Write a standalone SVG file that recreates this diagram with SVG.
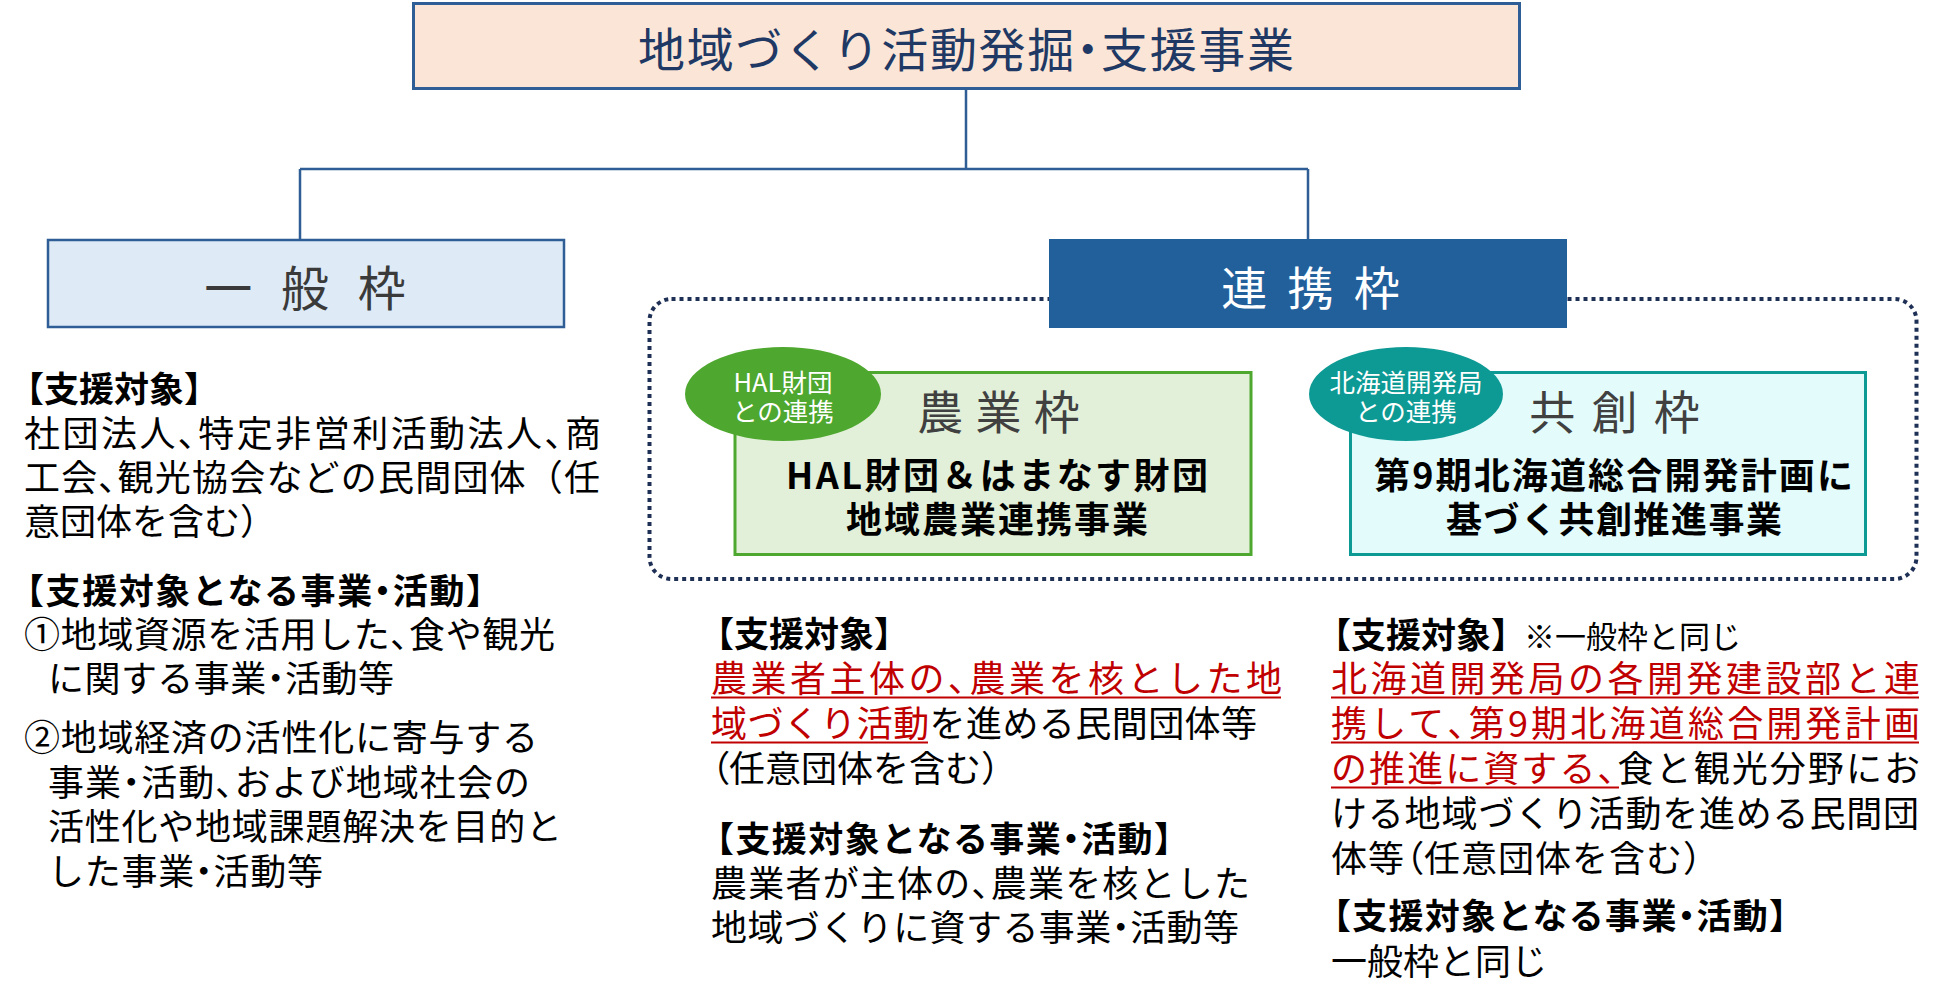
<svg xmlns="http://www.w3.org/2000/svg" width="1942" height="1005" viewBox="0 0 1942 1005">
<style>
text { font-family: "Noto Sans CJK JP", "Noto Sans CJK SC", sans-serif; }
.body { font-size: 36px; fill: #000; }
.head { font-size: 35px; font-weight: 700; fill: #000; }
.red { fill: #C00000; }
.p { font-feature-settings: "palt" 1; }
.ul { stroke: #C00000; stroke-width: 2.2; }
.conn { stroke: #2E5E95; stroke-width: 2.5; fill: none; }
.tag { font-size: 25.5px; fill: #FFFFFF; text-anchor: middle; }
.frame-label { font-size: 46px; fill: #404040; text-anchor: middle; }
.main { font-size: 36px; font-weight: 700; fill: #000; }
</style>
<rect width="1942" height="1005" fill="#FFFFFF"/>

<g id="connectors" class="conn">
  <path d="M966 89 V169 M300 169 H1308 M300 169 V239 M1308 169 V239"/>
</g>

<g id="node-top">
  <rect x="413.5" y="3.5" width="1106" height="85" fill="#FBE5D6" stroke="#2E5E95" stroke-width="3"/>
  <text x="966" y="67" font-size="47" fill="#203864" text-anchor="middle" textLength="656" lengthAdjust="spacing">地域づくり活動発掘<tspan class="p">・</tspan>支援事業</text>
</g>

<g id="node-general">
  <rect x="48" y="240" width="516" height="87" fill="#DEEBF7" stroke="#2E5E95" stroke-width="2.5"/>
  <text x="309.5" y="306" font-size="48" fill="#3A3A3A" text-anchor="middle" letter-spacing="9">一 般 枠</text>
</g>

<g id="frame-renkei">
  <rect x="649.5" y="299" width="1267" height="280" rx="22" fill="none" stroke="#1F3056" stroke-width="4" stroke-dasharray="4 4"/>
</g>

<g id="node-renkei">
  <rect x="1049" y="239" width="518" height="89" fill="#22609C"/>
  <text x="1313" y="305" font-size="46" fill="#FFFFFF" text-anchor="middle" letter-spacing="5">連 携 枠</text>
</g>

<g id="node-nogyo">
  <rect x="735" y="372.5" width="516" height="182" fill="#E2F0D9" stroke="#4EA72E" stroke-width="3"/>
  <ellipse cx="783" cy="394" rx="98" ry="47" fill="#4EA72E"/>
  <text class="tag" x="783" y="392">HAL財団</text>
  <text class="tag" x="783" y="421">との連携</text>
  <text class="frame-label" x="999" y="429" letter-spacing="1">農 業 枠</text>
  <text class="main" x="786" y="489" textLength="422" lengthAdjust="spacing">HAL財団＆はまなす財団</text>
  <text class="main" x="846" y="533" textLength="302" lengthAdjust="spacing">地域農業連携事業</text>
</g>

<g id="node-kyoso">
  <rect x="1350.5" y="372.5" width="515" height="182" fill="#E3FBFB" stroke="#0E9A94" stroke-width="3"/>
  <ellipse cx="1406" cy="394" rx="97" ry="47" fill="#0E9A94"/>
  <text class="tag" x="1406" y="392">北海道開発局</text>
  <text class="tag" x="1406" y="421">との連携</text>
  <text class="frame-label" x="1616" y="429" letter-spacing="3">共 創 枠</text>
  <text class="main" x="1374" y="489" textLength="479" lengthAdjust="spacing">第9期北海道総合開発計画に</text>
  <text class="main" x="1446" y="533" textLength="336" lengthAdjust="spacing">基づく共創推進事業</text>
</g>

<g id="text-general">
  <text class="head" x="9" y="402">【支援対象】</text>
  <text class="body" x="24" y="447" textLength="577" lengthAdjust="spacing">社団法人<tspan class="p">、</tspan>特定非営利活動法人<tspan class="p">、</tspan>商</text>
  <text class="body" x="24" y="491" textLength="576" lengthAdjust="spacing">工会<tspan class="p">、</tspan>観光協会などの民間団体（任</text>
  <text class="body" x="24" y="535">意団体を含む）</text>
  <text class="head" x="9" y="604" textLength="492" lengthAdjust="spacing">【支援対象となる事業<tspan class="p">・</tspan>活動】</text>
  <text class="body" x="24" y="648" textLength="531" lengthAdjust="spacing">①地域資源を活用した<tspan class="p">、</tspan>食や観光</text>
  <text class="body" x="48" y="692" textLength="346" lengthAdjust="spacing">に関する事業<tspan class="p">・</tspan>活動等</text>
  <text class="body" x="24" y="751" textLength="514" lengthAdjust="spacing">②地域経済の活性化に寄与する</text>
  <text class="body" x="48" y="796" textLength="482" lengthAdjust="spacing">事業<tspan class="p">・</tspan>活動<tspan class="p">、</tspan>および地域社会の</text>
  <text class="body" x="48" y="840" textLength="514" lengthAdjust="spacing">活性化や地域課題解決を目的と</text>
  <text class="body" x="48" y="885" textLength="275" lengthAdjust="spacing">した事業<tspan class="p">・</tspan>活動等</text>
</g>

<g id="text-nogyo">
  <text class="head" x="699" y="647">【支援対象】</text>
  <text class="body red" x="711" y="692" textLength="571" lengthAdjust="spacing">農業者主体の<tspan class="p">、</tspan>農業を核とした地</text>
  <text class="body" x="711" y="737" textLength="546" lengthAdjust="spacing"><tspan class="red">域づくり活動</tspan>を進める民間団体等</text>
  <text class="body" x="711" y="782"><tspan class="p">（</tspan>任意団体を含む）</text>
  <line class="ul" x1="711" y1="697.5" x2="1281" y2="697.5"/>
  <line class="ul" x1="711" y1="742.5" x2="928" y2="742.5"/>
  <text class="head" x="699" y="852" textLength="490" lengthAdjust="spacing">【支援対象となる事業<tspan class="p">・</tspan>活動】</text>
  <text class="body" x="711" y="897" textLength="539" lengthAdjust="spacing">農業者が主体の<tspan class="p">、</tspan>農業を核とした</text>
  <text class="body" x="711" y="941" textLength="528" lengthAdjust="spacing">地域づくりに資する事業<tspan class="p">・</tspan>活動等</text>
</g>

<g id="text-kyoso">
  <text class="head" x="1316" y="648">【支援対象】</text>
  <text x="1524" y="648" font-size="31" fill="#000">※一般枠と同じ</text>
  <text class="body red" x="1331" y="692" textLength="589" lengthAdjust="spacing">北海道開発局の各開発建設部と連</text>
  <text class="body red" x="1331" y="737" textLength="589" lengthAdjust="spacing">携して<tspan class="p">、</tspan>第9期北海道総合開発計画</text>
  <text class="body" x="1331" y="782" textLength="589" lengthAdjust="spacing"><tspan class="red">の推進に資する<tspan class="p">、</tspan></tspan>食と観光分野にお</text>
  <text class="body" x="1331" y="827" textLength="588" lengthAdjust="spacing">ける地域づくり活動を進める民間団</text>
  <text class="body" x="1331" y="872" textLength="388" lengthAdjust="spacing">体等<tspan class="p">（</tspan>任意団体を含む）</text>
  <line class="ul" x1="1331" y1="697.5" x2="1919" y2="697.5"/>
  <line class="ul" x1="1331" y1="742.5" x2="1919" y2="742.5"/>
  <line class="ul" x1="1331" y1="787.5" x2="1619" y2="787.5"/>
  <text class="head" x="1316" y="929" textLength="488" lengthAdjust="spacing">【支援対象となる事業<tspan class="p">・</tspan>活動】</text>
  <text class="body" x="1331" y="975">一般枠と同じ</text>
</g>
</svg>
